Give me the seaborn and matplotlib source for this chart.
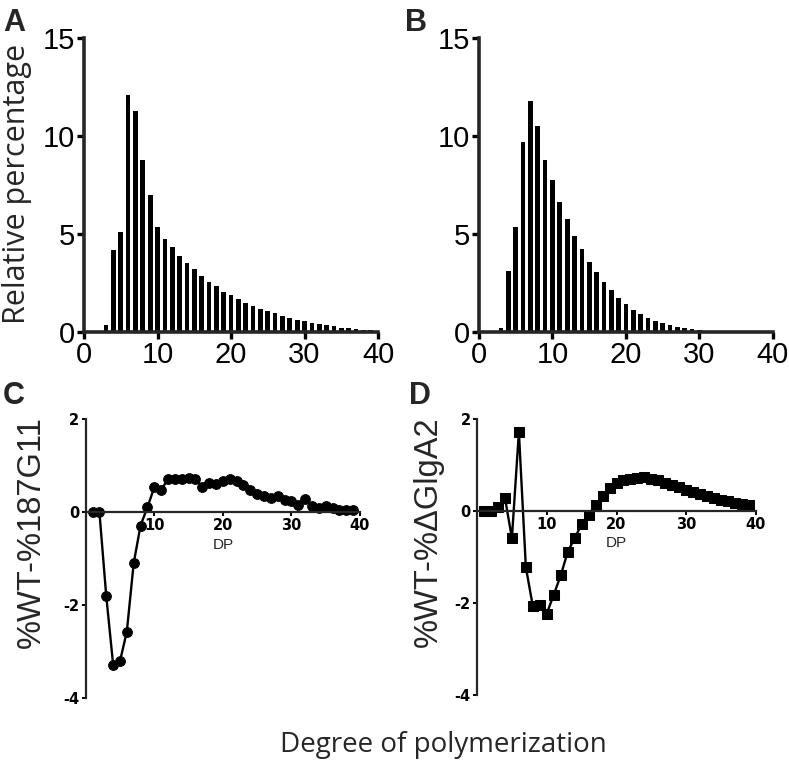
import matplotlib
matplotlib.use('Agg')
import matplotlib.pyplot as plt
import seaborn as sns
import numpy as np
import pandas as pd

# Degree of polymerization (DP) values
dp_bars = list(range(3, 41))
dp_diff = list(range(1, 40))

# Panel A: relative percentage, WT
wt_pct = [0.37, 4.17, 5.1, 12.07, 11.26, 8.78, 6.97, 5.37, 4.74, 4.35,
          3.89, 3.52, 3.21, 2.87, 2.55, 2.33, 2.06, 1.87, 1.67, 1.48,
          1.34, 1.17, 1.05, 0.99, 0.80, 0.70, 0.63, 0.54, 0.46, 0.41,
          0.34, 0.29, 0.22, 0.19, 0.15, 0.12, 0.09, 0.05]

# Panel B: relative percentage, mutant
mut_pct = [0.2, 3.13, 5.34, 9.68, 11.77, 10.53, 8.76, 7.77, 6.65, 5.77,
           4.91, 4.23, 3.57, 3.04, 2.55, 2.14, 1.72, 1.41, 1.11, 0.90,
           0.71, 0.56, 0.46, 0.36, 0.26, 0.19, 0.14, 0.09, 0.05, 0.03,
           0.02, 0.01, 0.0, 0.0, 0.0, 0.0, 0.0, 0.0]

# Panel C: %WT - %187G11
diff_187g11 = [0.0, 0.0, -1.81, -3.28, -3.21, -2.57, -1.10, -0.29, 0.10, 0.53,
               0.48, 0.70, 0.72, 0.72, 0.73, 0.72, 0.54, 0.62, 0.60, 0.66,
               0.70, 0.66, 0.59, 0.48, 0.39, 0.34, 0.30, 0.34, 0.25, 0.23,
               0.16, 0.27, 0.14, 0.09, 0.12, 0.09, 0.04, 0.04, 0.05]

# Panel D: %WT - %dGlgA2
diff_glga2 = [0.01, 0.0, 0.09, 0.29, -0.59, 1.72, -1.22, -2.07, -2.04, -2.23,
              -1.82, -1.40, -0.89, -0.59, -0.29, -0.09, 0.14, 0.33, 0.50, 0.61,
              0.67, 0.70, 0.72, 0.74, 0.70, 0.67, 0.62, 0.57, 0.52, 0.46,
              0.41, 0.36, 0.33, 0.28, 0.25, 0.21, 0.18, 0.16, 0.14]

sns.set_style('ticks')
plt.rcParams['font.family'] = ['Liberation Sans', 'DejaVu Sans']

fig = plt.figure(figsize=(7.89, 7.70), dpi=100)

ax_a = fig.add_axes([0.1065, 0.5688, 0.3726, 0.3818])
ax_b = fig.add_axes([0.6071, 0.5688, 0.3726, 0.3818])
ax_c = fig.add_axes([0.1086, 0.0935, 0.3477, 0.3623])
ax_d = fig.add_axes([0.6046, 0.0974, 0.3536, 0.3584])


def style_bar_axis(ax):
    ax.set_xlim(0, 40)
    ax.set_ylim(0, 15)
    ax.set_xticks([0, 10, 20, 30, 40])
    ax.set_yticks([0, 5, 10, 15])
    ax.set_xticklabels(['0', '10', '20', '30', '40'])
    ax.set_yticklabels(['0', '5', '10', '15'])
    for side in ['top', 'right']:
        ax.spines[side].set_visible(False)
    for side in ['left', 'bottom']:
        ax.spines[side].set_linewidth(2.6)
    ax.tick_params(axis='both', width=2.4, length=5, labelsize=21, pad=1.5,
                   color='black', labelcolor='black')
    ax.set_xlabel('')
    ax.set_ylabel('')


for ax, vals in [(ax_a, wt_pct), (ax_b, mut_pct)]:
    df = pd.DataFrame({'DP': dp_bars, 'pct': vals})
    sns.barplot(data=df, x='DP', y='pct', native_scale=True, color='black',
                width=0.64, saturation=1, edgecolor='black', linewidth=0, ax=ax)
    style_bar_axis(ax)


def style_diff_axis(ax):
    ax.set_xlim(0, 40)
    ax.set_ylim(-4, 2)
    ax.spines['bottom'].set_position(('data', 0))
    for side in ['top', 'right']:
        ax.spines[side].set_visible(False)
    for side in ['left', 'bottom']:
        ax.spines[side].set_linewidth(1.6)
    ax.set_xticks([10, 20, 30, 40])
    ax.set_xticklabels(['10', '20', '30', '40'])
    ax.set_yticks([-4, -2, 0, 2])
    ax.set_yticklabels(['-4', '-2', '0', '2'])
    ax.tick_params(axis='both', width=1.4, length=3, labelsize=10.5, pad=1.5,
                   color='black', labelcolor='black')
    plt.setp(ax.get_xticklabels() + ax.get_yticklabels(),
             fontweight='bold', family='DejaVu Sans')
    ax.set_xlabel('DP', fontsize=11)
    ax.xaxis.set_label_coords(0.5, 0.575)
    ax.set_ylabel('')


df_c = pd.DataFrame({'DP': dp_diff, 'diff': diff_187g11})
sns.lineplot(data=df_c, x='DP', y='diff', color='black', linewidth=1.7,
             marker='o', markersize=7, markeredgecolor='black', ax=ax_c)
style_diff_axis(ax_c)

df_d = pd.DataFrame({'DP': dp_diff, 'diff': diff_glga2})
sns.lineplot(data=df_d, x='DP', y='diff', color='black', linewidth=1.7,
             marker='s', markersize=6.5, markeredgecolor='black', ax=ax_d)
style_diff_axis(ax_d)

# Axis titles
fig.text(0.021, 0.761, 'Relative percentage', rotation=90, ha='center', va='center',
         fontsize=22, family=['Open Sans', 'DejaVu Sans'])
fig.text(0.040, 0.309, '%WT-%187G11', rotation=90, ha='center', va='center',
         fontsize=23.5)
fig.text(0.543, 0.309, '%WT-%\u0394GlgA2', rotation=90, ha='center', va='center',
         fontsize=23.5)
fig.text(0.562, 0.032, 'Degree of polymerization', ha='center', va='center',
         fontsize=20, family=['Open Sans', 'DejaVu Sans'])

# Panel letters
for x, y, letter in [(0.004, 0.99, 'A'), (0.513, 0.99, 'B'),
                     (0.004, 0.505, 'C'), (0.518, 0.505, 'D')]:
    fig.text(x, y, letter, ha='left', va='top', fontsize=22, fontweight='bold')

plt.savefig('out.png', dpi=100)
plt.close()
